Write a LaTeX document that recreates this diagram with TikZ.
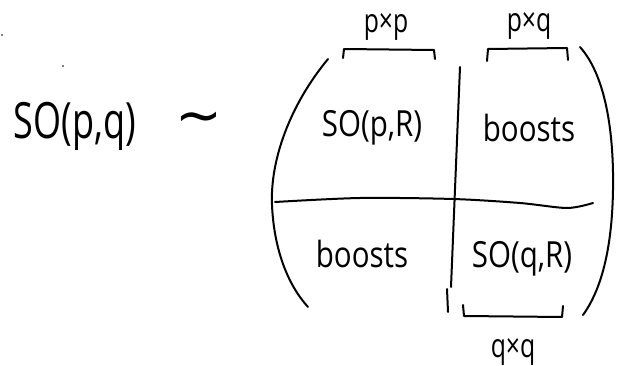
\documentclass[tikz,border=0pt]{standalone}
\usepackage{fontspec}
\setmainfont{Open Sans}
\newfontfamily\djv{DejaVu Sans}
\begin{document}
\begin{tikzpicture}[x=1pt,y=-1pt,
  ink/.style={line width=2pt,line cap=round,line join=round,black},
  big/.style={font=\fontsize{50}{50}\selectfont,inner sep=0pt,xscale=0.72},
  mid/.style={font=\fontsize{36}{36}\selectfont,inner sep=0pt,xscale=0.82},
  small/.style={font=\fontsize{33}{33}\selectfont,inner sep=0pt,xscale=0.75}]
\useasboundingbox (0,0) rectangle (619,366);
% stray dots
\fill (2,35) circle (0.9pt);
\fill (63,66) circle (0.9pt);
% left side
\node[big] (sopq) at (75,126) {SO(p,q)};
\node[inner sep=0pt,font=\djv\fontsize{56}{56}\selectfont,xscale=1] (tilde) at (199,123) {∼};
% parentheses
\draw[ink] (328,59) .. controls (290,105) and (270,160) .. (272,205) .. controls (274,250) and (288,285) .. (308,307);
\draw[ink] (580,47) .. controls (605,75) and (614,130) .. (613,190) .. controls (612,250) and (601,290) .. (583,315);
% block lines
\draw[ink] (460,67) -- (451,287);
\draw[ink] (447,289) -- (448,312);
\draw[ink] plot[smooth] coordinates {(275,202) (360,198) (453,199) (520,203) (567,208) (593,203)};
% brackets
\draw[ink] (343,58) -- (344,49) -- (434,50) -- (435,59);
\draw[ink] (487,61) -- (488,49) -- (567,48) -- (568,60);
\draw[ink] (463,305) -- (464,316) -- (562,317) -- (563,306);
% block contents
\node[mid] (sopR) at (372,128) {SO(p,R)};
\node[mid] (boostsA) at (529,128) {boosts};
\node[mid] (boostsB) at (362,254) {boosts};
\node[mid] (soqR) at (522,259) {SO(q,R)};
% dimension labels
\node[small] (lpp) at (386,27) {p×p};
\node[small] (lpq) at (529,26) {p×q};
\node[small] (lqq) at (513,352) {q×q};
\end{tikzpicture}
\end{document}
